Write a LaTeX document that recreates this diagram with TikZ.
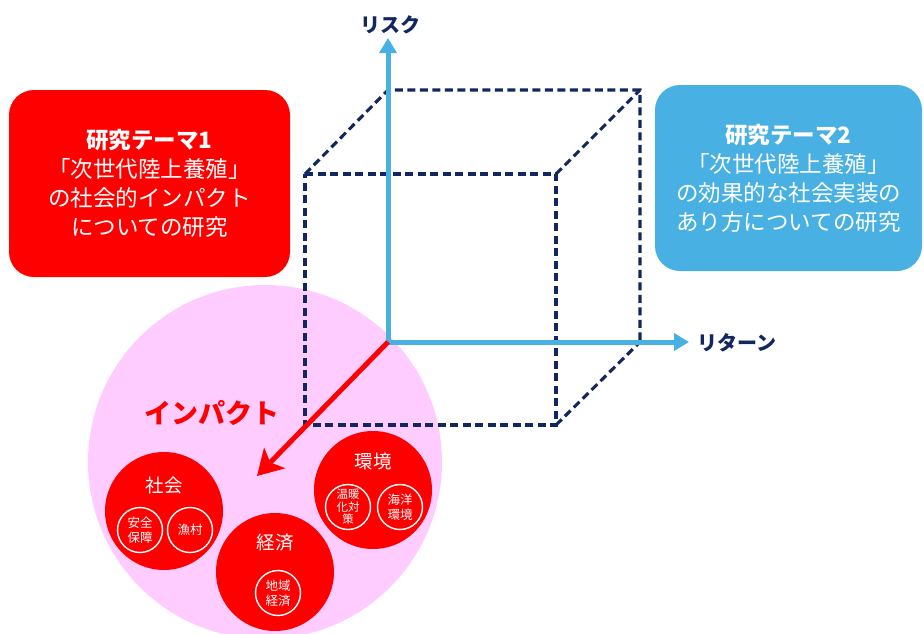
\documentclass[tikz,border=0pt]{standalone}
\usepackage{fontspec}
\newfontfamily\jp{Noto Sans CJK JP}
\usetikzlibrary{arrows.meta}
\definecolor{rd}{RGB}{255,0,0}
\definecolor{bl}{RGB}{72,176,226}
\definecolor{nv}{RGB}{18,38,96}
\definecolor{pk}{RGB}{255,204,255}
\tikzset{
  bigc/.style={circle, fill=rd, minimum size=#1, inner sep=0pt},
  smallc/.style={circle, draw=white, line width=1.4pt, minimum size=45pt, inner sep=0pt,
    text=white, align=center, font=\jp\fontsize{12.5}{15}\selectfont},
  biglbl/.style={text=white, font=\jp\fontsize{18.5}{20}\selectfont, inner sep=0pt},
  theme/.style={rounded corners=25pt, inner sep=0pt, text=white, align=center,
    font=\jp\fontsize{22.5}{29}\selectfont},
  cube/.style={nv, line width=3.1pt, dash pattern=on 8pt off 4.5pt},
  axis/.style={bl, line width=5pt, -{Triangle[length=15pt,width=17pt]}},
  axlbl/.style={text=nv, font=\jp\bfseries\fontsize{20}{22}\selectfont, inner sep=0pt}
}
\begin{document}
\begin{tikzpicture}[x=1pt,y=-1pt]
\useasboundingbox (0,0) rectangle (924,633);
\clip (0,0) rectangle (924,633);
% theme boxes
\node[theme, fill=rd, minimum width=281pt, minimum height=187pt] (t1) at (149.5,183.5)
  {{\bfseries 研究テーマ1}\\「次世代陸上養殖」\\の社会的インパクト\\についての研究};
\node[theme, fill=bl, minimum width=267pt, minimum height=186pt] (t2) at (788.5,178)
  {{\bfseries 研究テーマ2}\\「次世代陸上養殖」\\の効果的な社会実装の\\あり方についての研究};
% pink circle
\fill[pk] (265,462) circle (177pt);
% cube
\coordinate (O) at (388,342);
\coordinate (FTL) at (305,174);
\coordinate (FTR) at (556,174);
\coordinate (FBR) at (556,425);
\coordinate (FBL) at (305,425);
\coordinate (BTL) at (388,90);
\coordinate (BTR) at (640,90);
\coordinate (BBR) at (640,342);
\draw[cube] (FTL) -- (FTR) -- (FBR) -- (FBL) -- cycle;
\draw[cube] (FTL) -- (BTL) -- (BTR) -- (BBR);
\draw[cube] (FTR) -- (BTR);
\draw[cube] (FBR) -- (BBR);
% axes
\coordinate (Rtip) at (388,38);
\coordinate (Ttip) at (689,342);
\coordinate (Itip) at (257,476);
\draw[axis] (O) -- (Rtip);
\draw[axis] (O) -- (Ttip);
\draw[rd, line width=5pt, -{Stealth[length=25pt,width=29pt,inset=6pt]}] (O) -- (Itip);
\node[axlbl] (risk) at (390,25) {リスク};
\node[axlbl] (ret) at (737,343) {リターン};
\node[text=rd, font=\jp\bfseries\fontsize{27}{30}\selectfont, inner sep=0pt] (imp) at (212,413) {インパクト};
% impact circles
\node[bigc=118pt] (soc) at (164,511) {};
\node[bigc=118pt] (env) at (373,490) {};
\node[bigc=118pt] (eco) at (275,572) {};
\node[biglbl] (socl) at (164,485) {社会};
\node[biglbl] (envl) at (373,461) {環境};
\node[biglbl] (ecol) at (275,543) {経済};
\node[smallc] (s1) at (140,530) {安全\\保障};
\node[smallc] (s2) at (190,530) {漁村};
\node[smallc, font=\jp\fontsize{11.5}{12.5}\selectfont] (e1) at (348,507) {温暖\\化対\\策};
\node[smallc] (e2) at (400,507) {海洋\\環境};
\node[smallc] (c1) at (278,593) {地域\\経済};
\end{tikzpicture}
\end{document}
